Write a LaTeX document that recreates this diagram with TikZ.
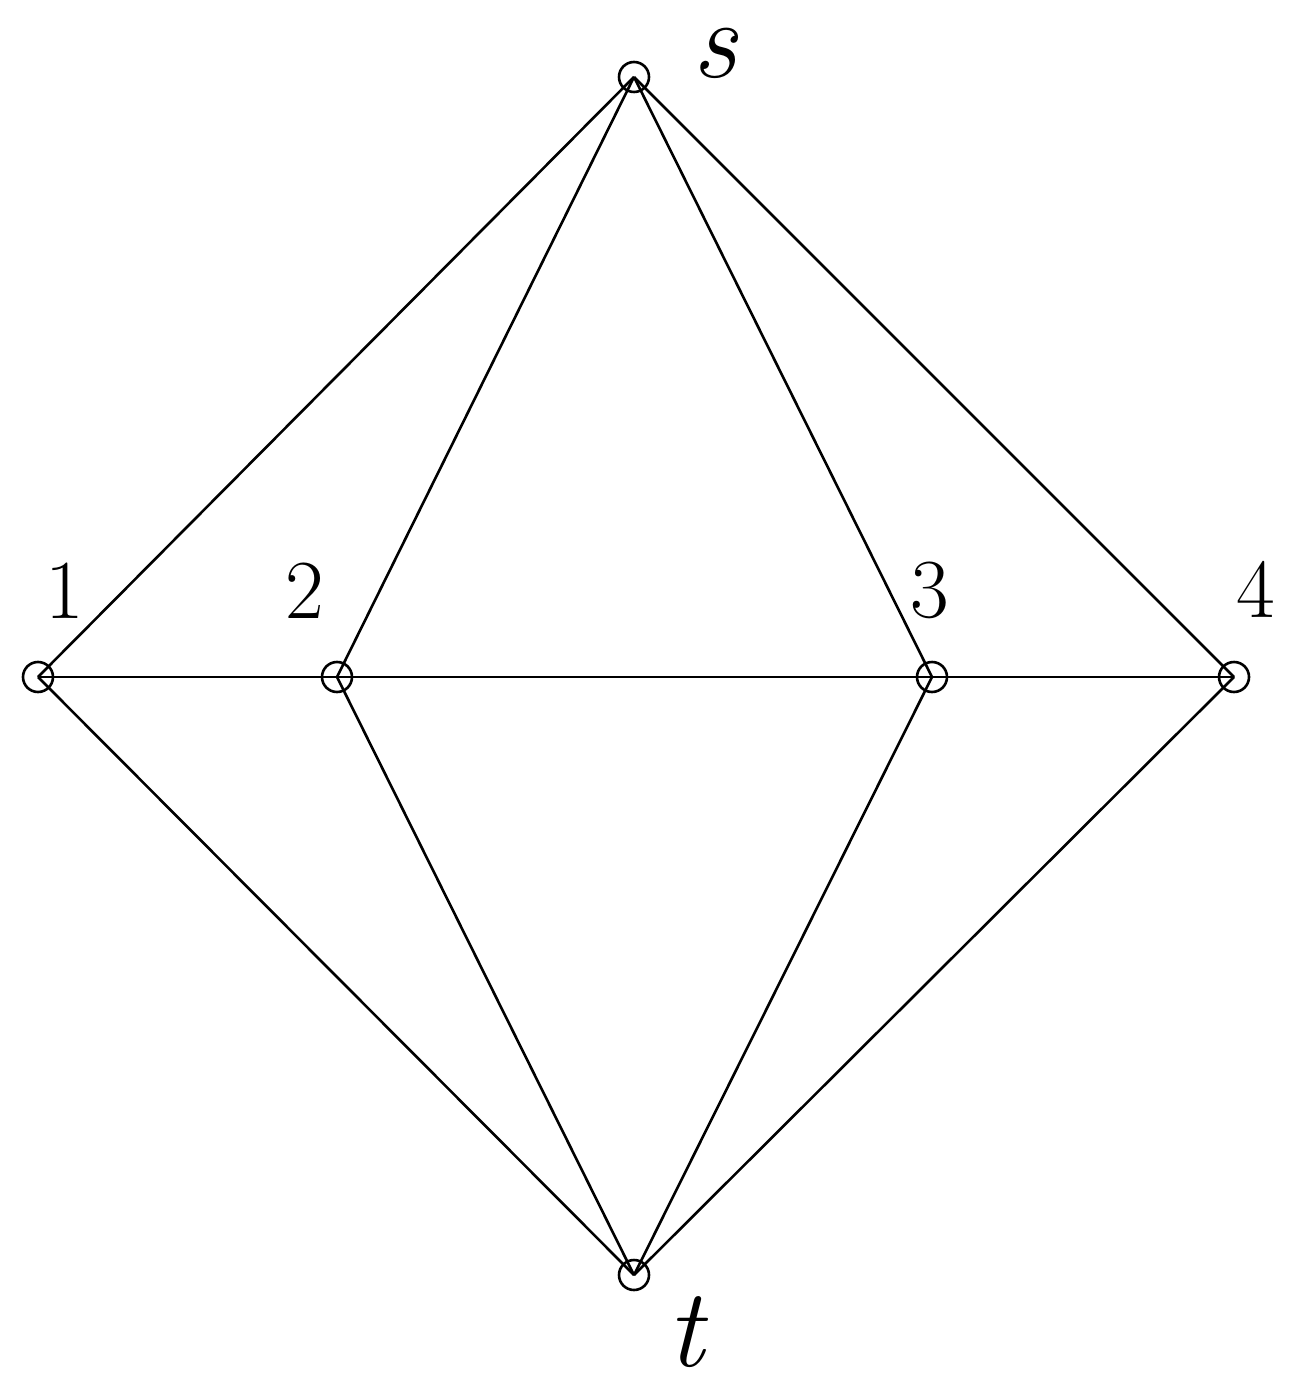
\documentclass[tikz,border=0pt]{standalone}
\begin{document}
\begin{tikzpicture}[x=0.5pt,y=-0.5pt,
  vtx/.style={circle,draw,line width=1.3pt,minimum size=15pt,inner sep=0pt},
  edge/.style={line width=1.3pt},
  numlab/.style={inner sep=0pt,font=\fontsize{42}{42}\selectfont},
  letlab/.style={inner sep=0pt,font=\fontsize{56}{56}\selectfont\itshape}]
\useasboundingbox (0,0) rectangle (1304,1395);
\node[vtx] (s) at (634,77) {};
\node[vtx] (t) at (634,1275) {};
\node[vtx] (v1) at (38,677) {};
\node[vtx] (v2) at (337,677) {};
\node[vtx] (v3) at (932,677) {};
\node[vtx] (v4) at (1234,677) {};
\foreach \a in {v1,v2,v3,v4}{
  \draw[edge] (s.center) -- (\a.center);
  \draw[edge] (t.center) -- (\a.center);
}
\draw[edge] (v1.center) -- (v2.center) -- (v3.center) -- (v4.center);
\node[letlab] (ls) at (715,53) {s};
\node[letlab] (lt) at (686,1332) {t};
\node[numlab] (l1) at (65,591) {1};
\node[numlab] (l2) at (305,591) {2};
\node[numlab] (l3) at (930,590) {3};
\node[numlab] (l4) at (1256,589) {4};
\end{tikzpicture}
\end{document}
